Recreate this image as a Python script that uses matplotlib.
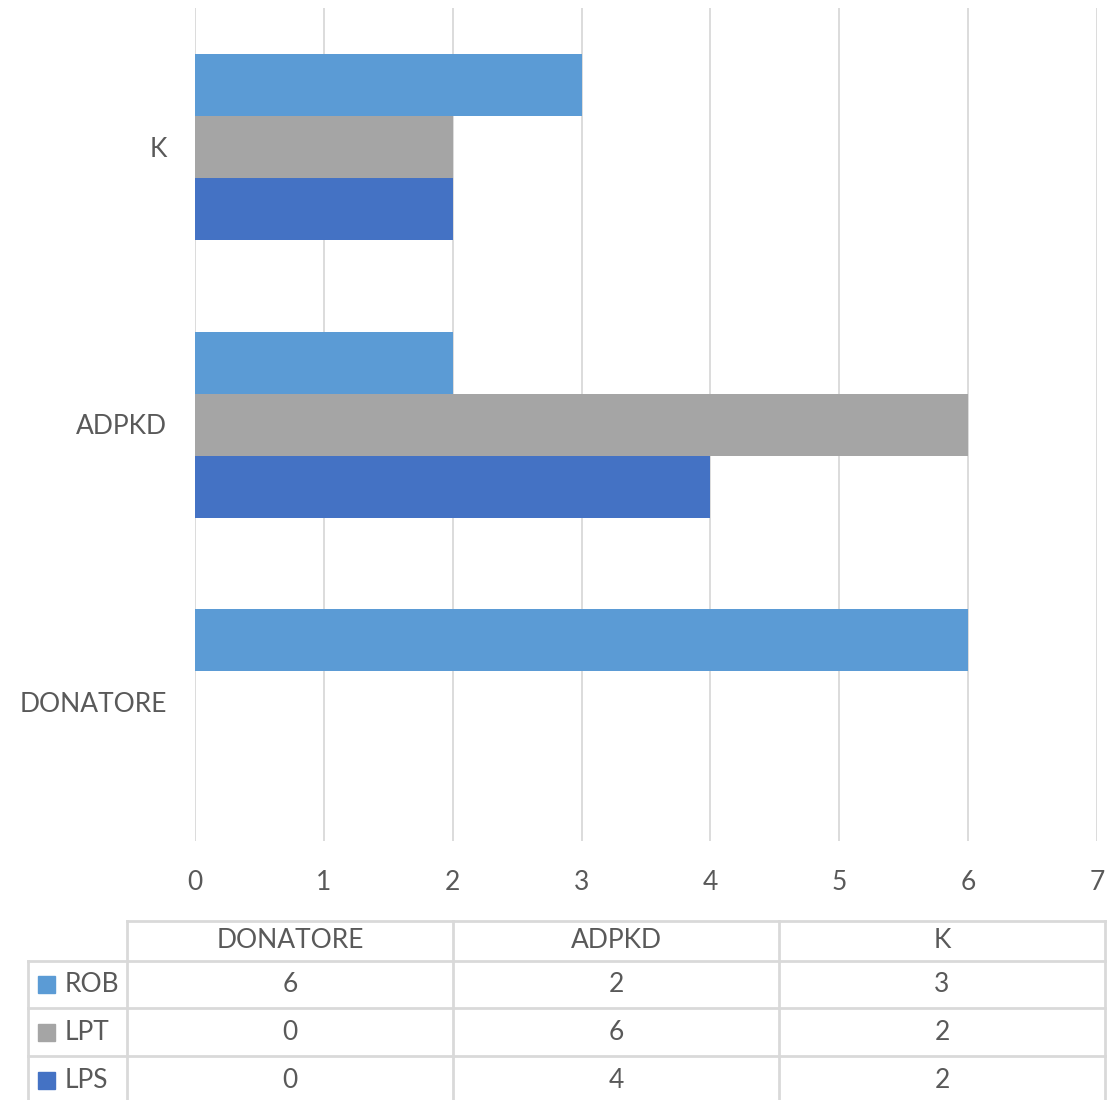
import matplotlib
matplotlib.use("Agg")
import matplotlib.pyplot as plt
from matplotlib.lines import Line2D
from matplotlib.patches import Rectangle
import numpy as np

categories = ["DONATORE", "ADPKD", "K"]
series_names = ["ROB", "LPT", "LPS"]
rob = [6, 2, 3]
lpt = [0, 6, 2]
lps = [0, 4, 2]
xticks = [0, 1, 2, 3, 4, 5, 6, 7]

colors = {"ROB": "#5B9BD5", "LPT": "#A5A5A5", "LPS": "#4472C4"}
text_color = "#595959"
grid_color = "#D9D9D9"
FONT = ["Lato", "DejaVu Sans"]
plt.rcParams["font.family"] = FONT
FS = 19

W, H = 1120, 1100
fig = plt.figure(figsize=(W / 100, H / 100), dpi=100)

left, right, top, bottom = 195, 1097, 8, 841
ax = fig.add_axes([left / W, 1 - bottom / H, (right - left) / W, (bottom - top) / H])

y = np.arange(len(categories))
h = 62 / ((bottom - top) / 3)
values = {"ROB": rob, "LPT": lpt, "LPS": lps}
offsets = {"ROB": h, "LPT": 0, "LPS": -h}
for name in series_names:
    ax.barh(y + offsets[name], values[name], height=h, color=colors[name], zorder=3)

ax.set_xlim(0, 7)
ax.set_ylim(-0.5, 2.5)
ax.set_xticks(xticks)
ax.set_xticklabels([str(t) for t in xticks])
ax.set_yticks(y)
ax.set_yticklabels(categories)
ax.tick_params(axis="both", length=0, labelsize=FS, colors=text_color)
ax.tick_params(axis="x", pad=21)
ax.tick_params(axis="y", pad=20)
ax.grid(axis="x", color=grid_color, linewidth=1.3, zorder=0)
for s in ax.spines.values():
    s.set_visible(False)

# Data table
def fx(px):
    return px / W

def fy(py):
    return 1 - py / H

lw = 2.0
tc = "#D9D9D9"
row_lines = [921, 961, 1008, 1056]
col_lines = [28, 127, 453, 779, 1105]
fig.add_artist(Line2D([fx(127), fx(1105)], [fy(921), fy(921)], color=tc, lw=lw))
for ry in row_lines[1:]:
    fig.add_artist(Line2D([fx(28), fx(1105)], [fy(ry), fy(ry)], color=tc, lw=lw))
fig.add_artist(Line2D([fx(28), fx(28)], [fy(961), fy(1100)], color=tc, lw=lw))
for cx in col_lines[1:]:
    fig.add_artist(Line2D([fx(cx), fx(cx)], [fy(921), fy(1100)], color=tc, lw=lw))

for i, cat in enumerate(categories):
    cx = (col_lines[i + 1] + col_lines[i + 2]) / 2
    fig.text(fx(cx), fy(941), cat, ha="center", va="center", fontsize=FS, color=text_color)

row_centers = [984, 1032, 1080]
for r, name in enumerate(series_names):
    cy = row_centers[r]
    fig.add_artist(Rectangle((fx(38), fy(cy + 8.5)), 17 / W, 17 / H, color=colors[name],
                             transform=fig.transFigure))
    fig.text(fx(65), fy(cy), name, ha="left", va="center", fontsize=FS, color=text_color)
    for i in range(len(categories)):
        cx = (col_lines[i + 1] + col_lines[i + 2]) / 2
        fig.text(fx(cx), fy(cy), str(values[name][i]), ha="center", va="center",
                 fontsize=FS, color=text_color)

fig.savefig("out.png", dpi=100, facecolor="white")
